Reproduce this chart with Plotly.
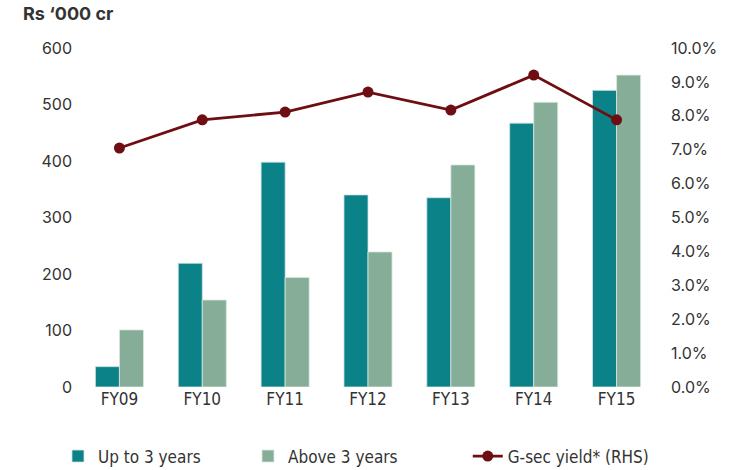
import plotly.graph_objects as go

years = ["FY09", "FY10", "FY11", "FY12", "FY13", "FY14", "FY15"]
up_to_3 = [36, 219, 398, 340, 335, 467, 525]
above_3 = [101, 154, 194, 239, 393, 504, 552]
gsec_yield = [7.05, 7.88, 8.11, 8.70, 8.17, 9.20, 7.88]

left_ticks = [0, 100, 200, 300, 400, 500, 600]
right_ticks = [0, 1, 2, 3, 4, 5, 6, 7, 8, 9, 10]

TEAL = "#0B8188"
SAGE = "#86AD98"
MAROON = "#6E0E12"
TXT = "#333333"
FONT = "Inter"
NARROW = "DejaVu Sans Condensed"

fig = go.Figure()
fig.add_trace(go.Bar(
    x=years, y=up_to_3, name="Up to 3 years", legend="legend",
    marker=dict(color=TEAL, line=dict(color="#cfe3e3", width=0.8)),
))
fig.add_trace(go.Bar(
    x=years, y=above_3, name="Above 3 years", legend="legend",
    marker=dict(color=SAGE, line=dict(color="#dbe8e0", width=0.8)),
))
fig.add_trace(go.Scatter(
    x=years, y=gsec_yield, name="G-sec yield* (RHS)", yaxis="y2",
    legend="legend2", mode="lines+markers",
    line=dict(color=MAROON, width=2.8),
    marker=dict(color=MAROON, size=11),
))

legend_font = dict(family=NARROW, size=17, color=TXT)

fig.update_layout(
    width=734, height=470,
    margin=dict(l=78, r=76, t=48, b=83, autoexpand=False),
    paper_bgcolor="white", plot_bgcolor="white",
    barmode="group", bargap=0.42, bargroupgap=0,
    font=dict(family=FONT, color=TXT, size=16),
    xaxis=dict(
        showgrid=False, showline=False, ticks="",
        tickfont=dict(family=NARROW, size=17, color=TXT),
        range=[-0.5, 6.5],
    ),
    yaxis=dict(
        range=[0, 600], tickvals=left_ticks, showgrid=False, zeroline=False,
        showline=False, ticks="", ticklabelstandoff=5,
        tickfont=dict(family=FONT, size=16, color=TXT),
    ),
    yaxis2=dict(
        range=[0, 10], tickvals=right_ticks,
        ticktext=[f"{v:.1f}%" for v in right_ticks],
        overlaying="y", side="right", showgrid=False, zeroline=False,
        showline=False, ticks="", ticklabelstandoff=12,
        tickfont=dict(family=FONT, size=16, color=TXT),
    ),
    legend=dict(
        orientation="h", x=-0.0345, xanchor="left", y=-0.205, yanchor="middle",
        entrywidth=145, traceorder="normal", font=legend_font,
    ),
    legend2=dict(
        orientation="h", x=0.672, xanchor="left", y=-0.205, yanchor="middle",
        font=legend_font,
    ),
    annotations=[dict(
        text="<b>Rs ‘000 cr</b>", xref="paper", yref="paper",
        x=-0.099, y=1.065, xanchor="left", yanchor="bottom", showarrow=False,
        font=dict(family=FONT, size=18, color=TXT),
    )],
)

fig.write_html("out.html")
